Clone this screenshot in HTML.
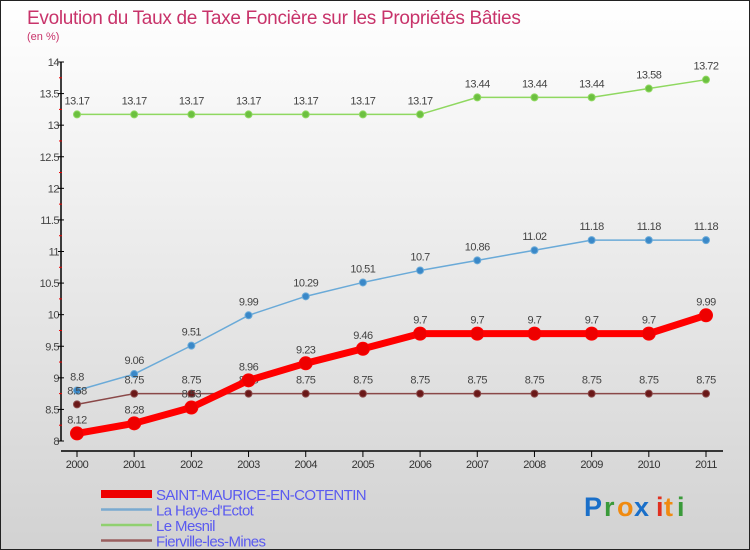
<!DOCTYPE html>
<html><head><meta charset="utf-8"><style>
body{margin:0}
#c{width:750px;height:550px;position:relative;overflow:hidden;box-sizing:border-box;border:1px solid #222;background:linear-gradient(#ffffff,#f2f2f2 30%,#d2d2d2);font-family:"Liberation Sans",sans-serif}
svg text{font-family:"Liberation Sans",sans-serif}
</style></head><body>
<div id="c">
<svg id="s" width="750" height="550">
<text x="26" y="23" font-size="19" fill="#c8336a" letter-spacing="-0.3">Evolution du Taux de Taxe Foncière sur les Propriétés Bâties</text>
<text x="26" y="39" font-size="11" fill="#c8336a">(en %)</text>
<g id="axes"></g><g id="series"></g><g id="legend"></g>
<g font-size="27" font-weight="bold">
<text x="583" y="515" fill="#1a6fc9">P</text><text x="603" y="515" fill="#3a9a3a">r</text><text x="616" y="515" fill="#f08a10">o</text><text x="633" y="515" fill="#1a6fc9">x</text><text x="655" y="515" fill="#e03020">i</text><text x="663" y="515" fill="#f08a10">t</text><text x="676" y="515" fill="#3a9a3a">i</text>
</g>
</svg></div>
<script>
const years=[2000,2001,2002,2003,2004,2005,2006,2007,2008,2009,2010,2011];
const yTicks=[8,8.5,9,9.5,10,10.5,11,11.5,12,12.5,13,13.5,14];
const saint=[8.12,8.28,8.53,8.96,9.23,9.46,9.7,9.7,9.7,9.7,9.7,9.99];
const haye=[8.8,9.06,9.51,9.99,10.29,10.51,10.7,10.86,11.02,11.18,11.18,11.18];
const mesnil=[13.17,13.17,13.17,13.17,13.17,13.17,13.17,13.44,13.44,13.44,13.58,13.72];
const fierville=[8.58,8.75,8.75,8.75,8.75,8.75,8.75,8.75,8.75,8.75,8.75,8.75];
const NS='http://www.w3.org/2000/svg';
function X(i){return 76+i*(705-76)/(years.length-1);}
function Y(v){return 440-(v-8)*(440-61)/6;}
function mk(t,a,p){const e=document.createElementNS(NS,t);for(const k in a)e.setAttribute(k,a[k]);(p||document.getElementById('s')).appendChild(e);return e;}
const ax=document.getElementById('axes');
mk('line',{x1:60,y1:61,x2:60,y2:440,stroke:'#000','stroke-width':1.5},ax);
mk('line',{x1:60,y1:450,x2:722,y2:450,stroke:'#000','stroke-width':1.5},ax);
yTicks.forEach((v,i)=>{
 const t=mk('text',{x:58,y:Y(v)+4,'font-size':11,fill:'#444','text-anchor':'end','letter-spacing':'-0.5'},ax);t.textContent=v;
 
 
 mk('line',{x1:57,y1:Y(v),x2:63,y2:Y(v),stroke:'#000'},ax);
 if(i<yTicks.length-1) mk('line',{x1:58,y1:Y(v+0.25),x2:61,y2:Y(v+0.25),stroke:'#e00'},ax);
});
years.forEach((y,i)=>{
 mk('line',{x1:X(i),y1:450,x2:X(i),y2:456,stroke:'#000'},ax);
 const t=mk('text',{x:X(i),y:467,'font-size':11,fill:'#333','text-anchor':'middle','letter-spacing':'-0.5'},ax);t.textContent=y;
 
 
});
const sg=document.getElementById('series');
function draw(vals,color,w,r,dot,name){
 const g=mk('g',{},sg);
 
 
 mk('polyline',{points:vals.map((v,i)=>X(i)+','+Y(v)).join(' '),fill:'none',stroke:color,'stroke-width':w,'stroke-linejoin':'round'},g);
 vals.forEach((v,i)=>{
  const c=mk('circle',{cx:X(i),cy:Y(v),r:r,fill:dot,stroke:color,'stroke-width':1},g);
  
  
  const t=mk('text',{x:X(i),y:Y(v)-10,'font-size':11,fill:'#444','text-anchor':'middle','letter-spacing':'-0.5'},g);t.textContent=v;
 });
}
draw(mesnil,'#8fd860',1.5,3.5,'#6cc040','series-le-mesnil');
draw(haye,'#6aaad8',1.5,3.5,'#3a88c8','series-la-haye');
draw(fierville,'#8a4848',1.5,3.5,'#6a1818','series-fierville');
draw(saint,'#ff0000',7,6.5,'#ee0000','series-saint-maurice');
const lg=document.getElementById('legend');
const items=[['SAINT-MAURICE-EN-COTENTIN','#ee0000',8],['La Haye-d\'Ectot','#7aaad0',2.5],['Le Mesnil','#90d070',2.5],['Fierville-les-Mines','#9a6060',2.5]];
items.forEach((it,i)=>{
 const y=493+i*15.5;
 const g=mk('g',{},lg);
 
 
 mk('line',{x1:100,y1:y,x2:151,y2:y,stroke:it[1],'stroke-width':it[2]},g);
 const t=mk('text',{x:155,y:y+6,'font-size':15,fill:'#5a5af0','letter-spacing':'-0.6'},g);t.textContent=it[0];
});
</script>
</body></html>
